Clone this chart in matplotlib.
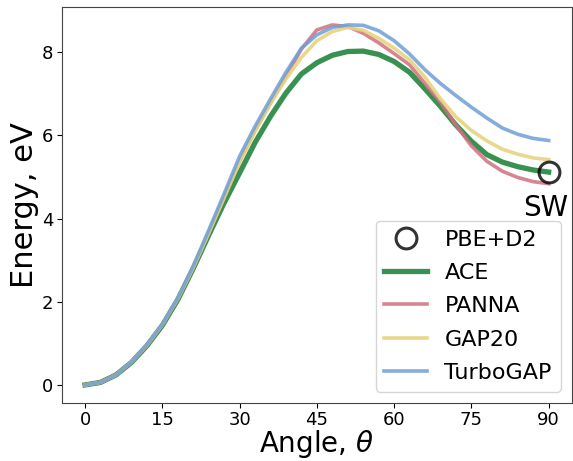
import numpy as np
import matplotlib
matplotlib.use("Agg")
import matplotlib.pyplot as plt

angle = np.arange(0, 91, 3)

ace = [0.00, 0.06, 0.24, 0.54, 0.94, 1.43, 2.05, 2.80, 3.60, 4.38, 5.10,
       5.83, 6.46, 7.02, 7.48, 7.75, 7.93, 8.02, 8.03, 7.95, 7.78, 7.52,
       7.12, 6.70, 6.25, 5.86, 5.54, 5.36, 5.25, 5.17, 5.12]
panna = [0.00, 0.06, 0.24, 0.55, 0.95, 1.45, 2.07, 2.82, 3.65, 4.52, 5.38,
         6.12, 6.78, 7.42, 8.08, 8.54, 8.66, 8.62, 8.46, 8.23, 7.97, 7.70,
         7.25, 6.80, 6.25, 5.75, 5.38, 5.14, 4.99, 4.89, 4.84]
gap20 = [0.00, 0.06, 0.24, 0.55, 0.95, 1.45, 2.07, 2.82, 3.65, 4.50, 5.36,
         6.10, 6.78, 7.36, 7.88, 8.28, 8.50, 8.60, 8.53, 8.34, 8.10, 7.82,
         7.40, 6.88, 6.45, 6.12, 5.87, 5.67, 5.55, 5.46, 5.42]
turbogap = [0.00, 0.06, 0.24, 0.55, 0.96, 1.46, 2.09, 2.86, 3.72, 4.60, 5.50,
            6.22, 6.88, 7.52, 8.10, 8.42, 8.60, 8.66, 8.65, 8.52, 8.28, 7.96,
            7.58, 7.25, 6.96, 6.68, 6.42, 6.18, 6.03, 5.93, 5.88]
sw_angle = 90
sw_energy = 5.12

fig = plt.figure(figsize=(5.73, 4.61), dpi=100)
ax = fig.add_axes([0.108, 0.126, 0.89, 0.859])

ax.plot([sw_angle], [sw_energy], 'o', ms=15, mfc='none', mec='k', mew=2.2,
        alpha=0.8, label='PBE+D2', zorder=5)
ax.plot(angle, ace, color='#2e8b47', lw=3.8, alpha=0.95, label='ACE')
ax.plot(angle, panna, color='#d07080', lw=2.6, alpha=0.85, label='PANNA')
ax.plot(angle, gap20, color='#e6d480', lw=2.6, alpha=0.9, label='GAP20')
ax.plot(angle, turbogap, color='#6f9fd6', lw=2.6, alpha=0.85, label='TurboGAP')

ax.text(89.5, 4.25, 'SW', fontsize=20, ha='center', va='center')

ax.set_xticks(np.arange(0, 91, 15))
ax.set_yticks([0, 2, 4, 6, 8])
ax.tick_params(labelsize=13, pad=2.5)
ax.set_xlabel(r'Angle, $\theta$', fontsize=20, labelpad=-1)
ax.set_ylabel('Energy, eV', fontsize=22, labelpad=2)
for s in ax.spines.values():
    s.set_color('#444444')

ax.legend(loc='lower right', fontsize=16, labelspacing=0.6, handlelength=1.9)

plt.savefig('out.png', dpi=100)
